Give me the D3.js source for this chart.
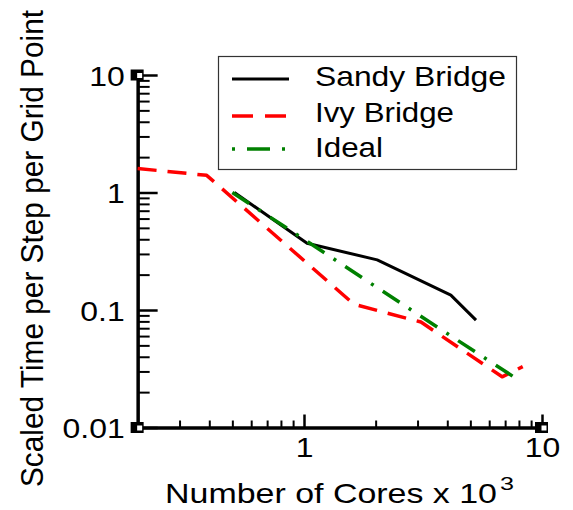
<!DOCTYPE html>
<html>
<head>
<meta charset="utf-8">
<script src="https://cdn.jsdelivr.net/npm/d3@7"></script>
<style>
  html, body { margin: 0; padding: 0; background: #fff; }
  svg { display: block; }
  text { font-family: "Liberation Sans", Arial, Helvetica, sans-serif; fill: #000; }
</style>
</head>
<body>
<svg id="chart" width="573" height="510"></svg>
<script>
// ---- data ----
const seriesNames = ["Sandy Bridge", "Ivy Bridge", "Ideal"];
const sandyCores = [0.51, 1.03, 2.03, 4.14, 5.28];
const sandyTime  = [1.0, 0.37, 0.267, 0.134, 0.082];
const ivyCores   = [0.2, 0.39, 1.62, 3.1, 6.8, 8.3];
const ivyTime    = [1.6, 1.4, 0.112, 0.079, 0.027, 0.033];
const idealCores = [0.5, 1, 2, 4, 7.6];
const idealTime  = [1.0, 0.4, 0.158, 0.063, 0.027];

const xMajorTicks = [1, 10];
const xMajorLabels = ["1", "10"];
const xMinorTicks = [0.3, 0.4, 0.5, 0.6, 0.7, 0.8, 0.9, 2, 3, 4, 5, 6, 7, 8, 9];
const yMajorTicks = [0.01, 0.1, 1, 10];
const yMajorLabels = ["0.01", "0.1", "1", "10"];
const yMinorTicks = [0.02,0.03,0.04,0.05,0.06,0.07,0.08,0.09,0.2,0.3,0.4,0.5,0.6,0.7,0.8,0.9,2,3,4,5,6,7,8,9];

const xLabel = "Number of Cores x 10";
const xLabelSup = "3";
const yLabel = "Scaled Time per Step per Grid Point";

// ---- layout ----
const svg = d3.select("#chart");
const x = d3.scaleLog().domain([0.2, 10]).range([304 - 238 * Math.log10(5), 542]);
const y = d3.scaleLog().domain([0.01, 10]).range([427.5, 75]);
const axisLeftX = x(0.2), axisBottomY = y(0.01);

function stretch(sel, f) {
  sel.each(function () {
    const w = this.getComputedTextLength();
    d3.select(this).attr("textLength", w * f).attr("lengthAdjust", "spacingAndGlyphs");
  });
}

// ---- axes ----
const gxMinor = svg.append("g").attr("transform", `translate(0,${axisBottomY})`)
  .call(d3.axisBottom(x).tickValues(xMinorTicks).tickSize(-7).tickSizeOuter(0).tickFormat(""));
const gyMinor = svg.append("g").attr("transform", `translate(${axisLeftX},0)`)
  .call(d3.axisLeft(y).tickValues(yMinorTicks).tickSize(-12).tickSizeOuter(0).tickFormat(""));
[gxMinor, gyMinor].forEach(g => {
  g.select(".domain").remove();
  g.selectAll(".tick line").attr("stroke", "#000").attr("stroke-width", 2);
});

const gx = svg.append("g").attr("transform", `translate(0,${axisBottomY})`)
  .call(d3.axisBottom(x).tickValues(xMajorTicks).tickSize(-13).tickSizeOuter(0).tickPadding(10)
    .tickFormat((d, i) => xMajorLabels[i]));
const gy = svg.append("g").attr("transform", `translate(${axisLeftX},0)`)
  .call(d3.axisLeft(y).tickValues(yMajorTicks).tickSize(-20).tickSizeOuter(0).tickPadding(13)
    .tickFormat((d, i) => yMajorLabels[i]));
[gx, gy].forEach(g => {
  g.select(".domain").attr("stroke", "#000").attr("stroke-width", 3.5);
  g.selectAll(".tick line").attr("stroke", "#000").attr("stroke-width", 2.5);
  g.selectAll(".tick text").attr("font-size", 28).attr("fill", "#000")
    .attr("font-family", "'Liberation Sans', Arial, sans-serif");
  g.attr("font-size", null).attr("font-family", null);
});
stretch(gx.selectAll(".tick text"), 1.14);
stretch(gy.selectAll(".tick text"), 1.14);
gy.selectAll(".tick text").attr("dy", "0.36em");

// ---- corner markers ----
const corners = [[axisLeftX, y(10)], [axisLeftX, axisBottomY], [x(10), axisBottomY]];
const cg = svg.append("g");
corners.forEach(([cx, cy]) => {
  cg.append("rect").attr("x", cx - 7).attr("y", cy - 5.5).attr("width", 13).attr("height", 11).attr("fill", "#000");
  cg.append("rect").attr("x", cx - 0.5).attr("y", cy - 2).attr("width", 5).attr("height", 5).attr("fill", "#fff");
});

// ---- series ----
const series = [
  { name: seriesNames[0], xs: sandyCores, ys: sandyTime, color: "#000000", width: 3, dash: null, legendDash: null },
  { name: seriesNames[1], xs: ivyCores, ys: ivyTime, color: "#ff0000", width: 3.5, dash: "19,11", legendDash: "21,12" },
  { name: seriesNames[2], xs: idealCores, ys: idealTime, color: "#008000", width: 3.5, dash: "20,11,3,11", legendDash: "3,12,23,12" }
];
const line = d3.line().x(d => x(d[0])).y(d => y(d[1]));
const plotG = svg.append("g");
series.forEach(s => {
  const pts = s.xs.map((v, i) => [v, s.ys[i]]);
  plotG.append("path").datum(pts).attr("d", line)
    .attr("fill", "none").attr("stroke", s.color).attr("stroke-width", s.width)
    .attr("stroke-linejoin", "round")
    .attr("stroke-dasharray", s.dash);
});

// ---- legend ----
const lg = svg.append("g");
lg.append("rect").attr("x", 218.5).attr("y", 56.5).attr("width", 298).attr("height", 113)
  .attr("fill", "#fff").attr("stroke", "#333").attr("stroke-width", 1.2);
const rowY = [79, 116, 149];
const textBase = [86, 122, 157];
const textLen = [191, 139, 68];
series.forEach((s, i) => {
  lg.append("line").attr("x1", 232).attr("x2", 289).attr("y1", rowY[i]).attr("y2", rowY[i])
    .attr("stroke", s.color).attr("stroke-width", s.width)
    .attr("stroke-dasharray", s.legendDash);
  lg.append("text").attr("x", 315).attr("y", textBase[i]).attr("font-size", 28)
    .attr("textLength", textLen[i]).attr("lengthAdjust", "spacingAndGlyphs")
    .text(s.name);
});

// ---- axis titles ----
svg.append("text").attr("x", 165).attr("y", 503).attr("font-size", 28)
  .attr("textLength", 332).attr("lengthAdjust", "spacingAndGlyphs").text(xLabel);
svg.append("text").attr("x", 500).attr("y", 490).attr("font-size", 18)
  .attr("textLength", 14).attr("lengthAdjust", "spacingAndGlyphs").text(xLabelSup);
svg.append("text").attr("transform", "rotate(-90)")
  .attr("x", -248.5).attr("y", 43).attr("text-anchor", "middle").attr("font-size", 30.5)
  .attr("textLength", 477).attr("lengthAdjust", "spacingAndGlyphs").text(yLabel);
</script>
</body>
</html>
